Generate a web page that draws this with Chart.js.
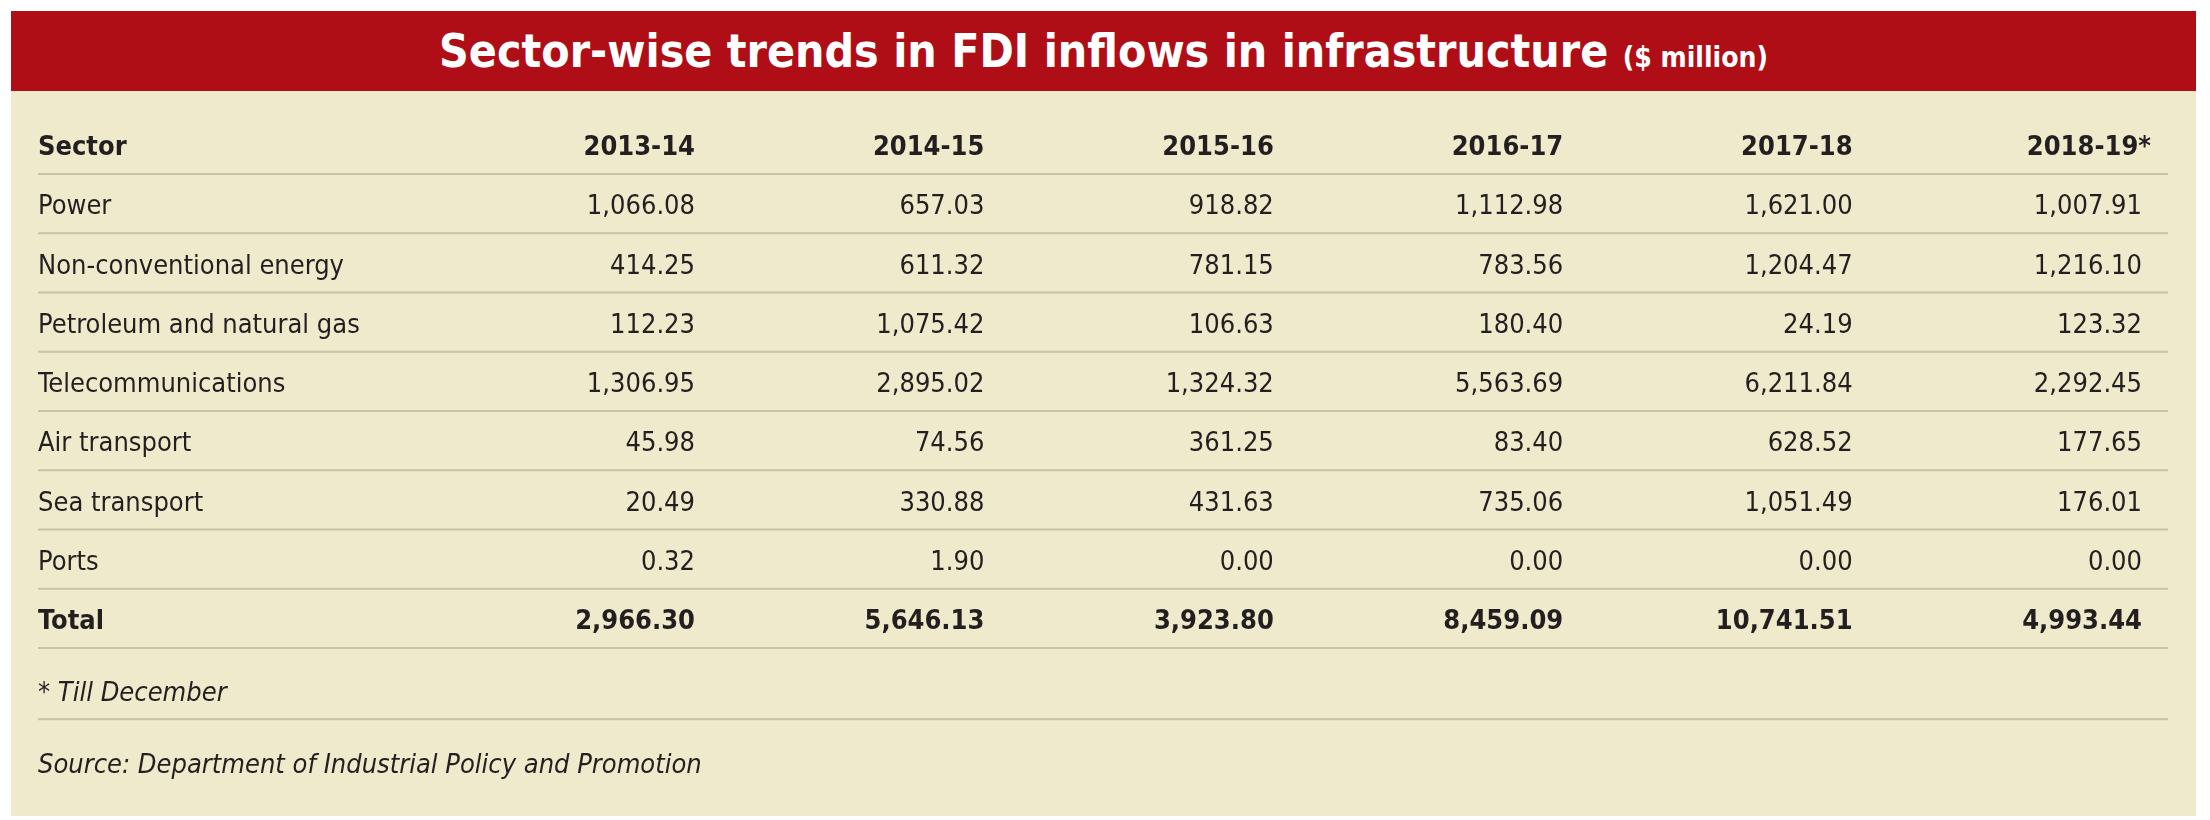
<!DOCTYPE html>
<html><head><meta charset="utf-8">
<script src="https://cdn.jsdelivr.net/npm/chart.js@4"></script>
<style>
html,body{margin:0;padding:0;background:#fff;width:2210px;height:820px;overflow:hidden}
#box{position:absolute;left:11px;top:11px;width:2185px;height:805px;background:#EFEACB}
#banner{position:absolute;left:0;top:0;width:2185px;height:80px;background:#B00E17;color:#fff;text-align:center;line-height:80px;font-family:"Liberation Sans Narrow","DejaVu Sans Condensed",sans-serif;font-weight:bold;font-size:46px}
#banner span{font-size:28px}
canvas{position:absolute;left:0;top:0}
</style></head><body>
<div id="box"><div id="banner">Sector-wise trends in FDI inflows in infrastructure <span>($ million)</span></div></div>
<canvas id="c" width="2210" height="820"></canvas>
<script>
const years = ["2013-14","2014-15","2015-16","2016-17","2017-18","2018-19*"];
const sectors = ["Power","Non-conventional energy","Petroleum and natural gas","Telecommunications","Air transport","Sea transport","Ports","Total"];
const power = [1066.08,657.03,918.82,1112.98,1621.00,1007.91];
const nonConv = [414.25,611.32,781.15,783.56,1204.47,1216.10];
const petroleum = [112.23,1075.42,106.63,180.40,24.19,123.32];
const telecom = [1306.95,2895.02,1324.32,5563.69,6211.84,2292.45];
const air = [45.98,74.56,361.25,83.40,628.52,177.65];
const sea = [20.49,330.88,431.63,735.06,1051.49,176.01];
const ports = [0.32,1.90,0.00,0.00,0.00,0.00];
const total = [2966.30,5646.13,3923.80,8459.09,10741.51,4993.44];
const rows = [power,nonConv,petroleum,telecom,air,sea,ports,total];
const footnote = "* Till December";
const source = "Source: Department of Industrial Policy and Promotion";
const rowLabels = ["Sector"].concat(sectors);
const fmt = v => v.toLocaleString("en-US",{minimumFractionDigits:2,maximumFractionDigits:2});
const FONT = '"Liberation Sans Narrow","DejaVu Sans Condensed",sans-serif';
const ink = "#231F20", rule = "#C8C2A6";

const tablePlugin = {
  id:"table",
  afterDraw(chart){
    const ctx = chart.ctx, xs = chart.scales.x, ys = chart.scales.y;
    const leftX = 38, rightX = 2168;
    const step = ys.getPixelForValue(1) - ys.getPixelForValue(0);
    ctx.save();
    ctx.textBaseline = "middle";
    rowLabels.forEach((lab,r)=>{
      const y = ys.getPixelForValue(r);
      const bold = (r===0 || r===rowLabels.length-1);
      ctx.font = (bold?"bold ":"") + "27px " + FONT;
      ctx.fillStyle = ink;
      ctx.textAlign = "left";
      ctx.fillText(lab, leftX, y);
      ctx.textAlign = "right";
      for(let c=0;c<years.length;c++){
        let x = xs.getPixelForValue(c);
        let txt;
        if(r===0){ txt = years[c]; if(c===years.length-1) x += 9; }
        else txt = fmt(rows[r-1][c]);
        ctx.fillText(txt, x, y);
      }
      ctx.strokeStyle = rule; ctx.lineWidth = 2;
      ctx.beginPath(); ctx.moveTo(leftX, y+step*0.44); ctx.lineTo(rightX, y+step*0.44); ctx.stroke();
    });
    const lastY = ys.getPixelForValue(rowLabels.length-1);
    ctx.font = "italic 27px " + FONT;
    ctx.textAlign = "left";
    ctx.fillText(footnote, leftX, lastY + step*1.22);
    ctx.beginPath(); ctx.moveTo(leftX, lastY+step*1.64); ctx.lineTo(rightX, lastY+step*1.64); ctx.stroke();
    ctx.fillText(source, leftX, lastY + step*2.43);
    ctx.restore();
  }
};

new Chart(document.getElementById("c"), {
  type:"line",
  data:{ labels: years, datasets:[{ data: years.map(()=>null), yAxisID:"y" }] },
  options:{
    responsive:false, animation:false,
    layout:{ padding:{ left:695, right:68, top:148, bottom:198 } },
    plugins:{ legend:{display:false}, tooltip:{enabled:false}, title:{display:false} },
    scales:{
      x:{ type:"category", labels: years, offset:false, display:false },
      y:{ type:"category", labels: rowLabels, offset:false, display:false }
    }
  },
  plugins:[tablePlugin]
});
</script>
</body></html>
